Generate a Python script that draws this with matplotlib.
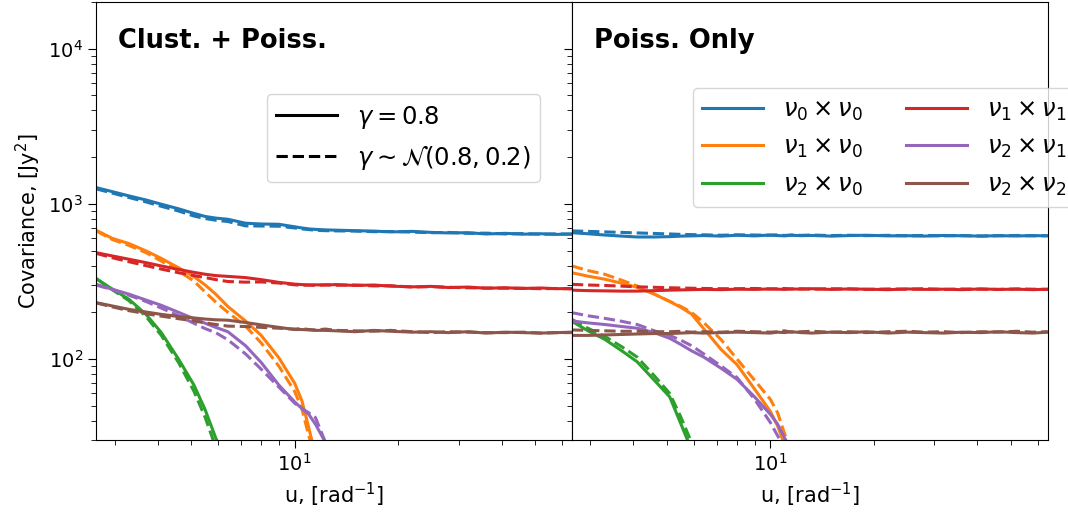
import matplotlib.pyplot as plt
import numpy as np
from matplotlib.ticker import NullFormatter
from matplotlib.lines import Line2D

nan = np.nan

# u grid, [rad^-1]
u = [2.65, 2.95, 3.3, 3.7, 4.1, 4.6, 5.1, 5.5, 5.9, 6.4, 7.2, 8.0, 9.0, 10.0, 10.5, 11.0,
     11.5, 12.3, 13.2, 15, 17, 19, 22, 25, 28, 32, 36, 41, 46, 52, 58, 64]

# Clust. + Poiss. , gamma = 0.8 (solid) and gamma ~ N(0.8, 0.2) (dashed)
cp_00 = [1274, 1200, 1126, 1060, 995, 930, 868, 830, 810, 796, 751, 742, 739, 712, 700, 690,
         685, 680, 677, 672, 668, 660, 665, 655, 650, 652, 640, 646, 638, 642, 636, 640]
cp_00n = [1250, 1175, 1100, 1030, 965, 900, 835, 805, 785, 770, 722, 720, 718, 700, 690, 683,
          676, 672, 670, 668, 662, 664, 658, 652, 655, 646, 648, 640, 644, 637, 641, 638]
cp_10 = [677, 600, 555, 498, 445, 388, 340, 300, 262, 218, 176, 142, 102, 70, 54, 36,
         24, nan, nan, nan, nan, nan, nan, nan, nan, nan, nan, nan, nan, nan, nan, nan]
cp_10n = [670, 590, 540, 485, 428, 370, 318, 270, 233, 200, 163, 127, 90, 62, 48, 32,
          23, nan, nan, nan, nan, nan, nan, nan, nan, nan, nan, nan, nan, nan, nan, nan]
cp_20 = [330, 283, 243, 194, 148, 100, 68, 47, 31, 21, nan, nan, nan, nan, nan, nan,
         nan, nan, nan, nan, nan, nan, nan, nan, nan, nan, nan, nan, nan, nan, nan, nan]
cp_20n = [330, 280, 238, 188, 142, 95, 62, 42, 27, nan, nan, nan, nan, nan, nan, nan,
          nan, nan, nan, nan, nan, nan, nan, nan, nan, nan, nan, nan, nan, nan, nan, nan]
cp_11 = [485, 462, 440, 418, 398, 378, 362, 352, 345, 341, 335, 325, 312, 304, 302, 300,
         301, 300, 302, 298, 300, 295, 292, 294, 289, 291, 286, 288, 285, 287, 284, 285]
cp_11n = [480, 450, 424, 400, 380, 360, 345, 335, 325, 316, 313, 314, 309, 301, 299, 300,
          298, 301, 299, 300, 296, 297, 291, 293, 290, 288, 287, 286, 286, 284, 285, 283]
cp_21 = [303, 282, 262, 240, 222, 200, 182, 170, 160, 150, 122, 95, 68, 53, 48, 44,
         38, 29, nan, nan, nan, nan, nan, nan, nan, nan, nan, nan, nan, nan, nan, nan]
cp_21n = [300, 280, 258, 235, 213, 190, 170, 157, 148, 133, 108, 86, 66, 52, 48, 45,
          42, 29, nan, nan, nan, nan, nan, nan, nan, nan, nan, nan, nan, nan, nan, nan]
cp_22 = [231, 220, 209, 201, 194, 188, 184, 181, 179, 178, 172, 166, 160, 155, 155, 154,
         153, 153, 152, 150, 153, 151, 149, 150, 148, 150, 147, 149, 148, 147, 148, 149]
cp_22n = [230, 217, 205, 196, 189, 182, 176, 171, 167, 163, 162, 160, 158, 156, 157, 155,
          154, 156, 153, 152, 151, 153, 150, 148, 150, 149, 148, 148, 149, 147, 148, 148]

# Poiss. Only
po_00 = [652, 642, 630, 620, 612, 612, 615, 620, 622, 625, 620, 628, 622, 630, 625, 622,
         628, 624, 626, 620, 625, 628, 622, 624, 620, 626, 623, 620, 624, 621, 625, 622]
po_00n = [670, 665, 660, 655, 650, 645, 640, 636, 634, 632, 628, 632, 630, 628, 632, 626,
          630, 627, 630, 625, 628, 624, 627, 622, 626, 622, 625, 621, 623, 626, 622, 624]
po_10 = [360, 342, 327, 308, 290, 262, 235, 215, 195, 157, 115, 92, 64, 46, 37, 28,
         nan, nan, nan, nan, nan, nan, nan, nan, nan, nan, nan, nan, nan, nan, nan, nan]
po_10n = [398, 372, 352, 322, 296, 262, 235, 218, 200, 172, 133, 100, 73, 55, 45, 33,
          25, nan, nan, nan, nan, nan, nan, nan, nan, nan, nan, nan, nan, nan, nan, nan]
po_20 = [175, 152, 134, 113, 96, 73, 57, 38, 26, nan, nan, nan, nan, nan, nan, nan,
         nan, nan, nan, nan, nan, nan, nan, nan, nan, nan, nan, nan, nan, nan, nan, nan]
po_20n = [180, 158, 140, 120, 103, 78, 60, 42, 29, nan, nan, nan, nan, nan, nan, nan,
          nan, nan, nan, nan, nan, nan, nan, nan, nan, nan, nan, nan, nan, nan, nan, nan]
po_11 = [278, 276, 275, 274, 274, 276, 278, 279, 280, 281, 280, 282, 281, 283, 282, 281,
         283, 282, 284, 281, 283, 282, 280, 283, 281, 282, 280, 283, 281, 282, 280, 282]
po_11n = [303, 300, 298, 295, 292, 290, 288, 287, 286, 285, 284, 284, 285, 283, 284, 285,
          283, 284, 282, 284, 283, 281, 283, 282, 284, 281, 283, 282, 281, 283, 282, 281]
po_21 = [176, 171, 167, 162, 158, 148, 136, 124, 113, 103, 87, 74, 57, 44, 38, 31,
         26, nan, nan, nan, nan, nan, nan, nan, nan, nan, nan, nan, nan, nan, nan, nan]
po_21n = [199, 190, 183, 175, 167, 152, 142, 132, 122, 108, 90, 76, 55, 39, 32, 27,
          nan, nan, nan, nan, nan, nan, nan, nan, nan, nan, nan, nan, nan, nan, nan, nan]
po_22 = [142, 142, 143, 144, 145, 146, 146, 147, 148, 147, 148, 149, 148, 147, 149, 148,
         150, 148, 147, 149, 148, 150, 147, 149, 148, 147, 149, 148, 150, 148, 147, 149]
po_22n = [154, 153, 152, 151, 151, 150, 150, 151, 149, 150, 149, 151, 150, 149, 150, 152,
          149, 150, 151, 149, 150, 148, 150, 151, 149, 150, 148, 150, 149, 151, 149, 150]

labels = [r'$\nu_0 \times \nu_0$', r'$\nu_1 \times \nu_0$', r'$\nu_2 \times \nu_0$',
          r'$\nu_1 \times \nu_1$', r'$\nu_2 \times \nu_1$', r'$\nu_2 \times \nu_2$']
colors = ['C0', 'C1', 'C2', 'C3', 'C4', 'C5']

left_solid = [cp_00, cp_10, cp_20, cp_11, cp_21, cp_22]
left_dash = [cp_00n, cp_10n, cp_20n, cp_11n, cp_21n, cp_22n]
right_solid = [po_00, po_10, po_20, po_11, po_21, po_22]
right_dash = [po_00n, po_10n, po_20n, po_11n, po_21n, po_22n]

fig, axs = plt.subplots(1, 2, sharey=True, figsize=(10.68, 5.16), dpi=100)
plt.subplots_adjust(left=0.09, right=0.981, top=0.996, bottom=0.147, wspace=0)

lw = 2.2
for ax, sol, das in [(axs[0], left_solid, left_dash), (axs[1], right_solid, right_dash)]:
    for i in range(6):
        ax.plot(u, sol[i], color=colors[i], lw=lw, label=labels[i])
        ax.plot(u, das[i], color=colors[i], lw=lw, ls='--')
    ax.set_xscale('log')
    ax.set_yscale('log')
    ax.set_xlim(2.65, 64)
    ax.set_ylim(30, 2e4)
    ax.xaxis.set_minor_formatter(NullFormatter())
    ax.tick_params(which='major', length=6, labelsize=14)
    ax.tick_params(which='minor', length=3.5)
    ax.set_xlabel(r'u, [rad$^{-1}$]', fontsize=15)

axs[0].set_ylabel(r'Covariance, [Jy$^2$]', fontsize=15)

axs[0].text(0.046, 0.91, 'Clust. + Poiss.', transform=axs[0].transAxes,
            fontsize=18.5, fontweight='bold', va='center')
axs[1].text(0.046, 0.91, 'Poiss. Only', transform=axs[1].transAxes,
            fontsize=18.5, fontweight='bold', va='center')

handles = [Line2D([], [], color='k', lw=lw), Line2D([], [], color='k', lw=lw, ls='--')]
axs[0].legend(handles, [r'$\gamma = 0.8$', r'$\gamma \sim \mathcal{N}(0.8, 0.2)$'],
              loc='upper right', bbox_to_anchor=(0.933, 0.79), borderaxespad=0,
              fontsize=17.5, handlelength=2.5)
axs[1].legend(loc='upper left', bbox_to_anchor=(0.254, 0.804), borderaxespad=0,
              ncol=2, fontsize=17.5, handlelength=2.5, columnspacing=1.8)

plt.savefig('out.png')
